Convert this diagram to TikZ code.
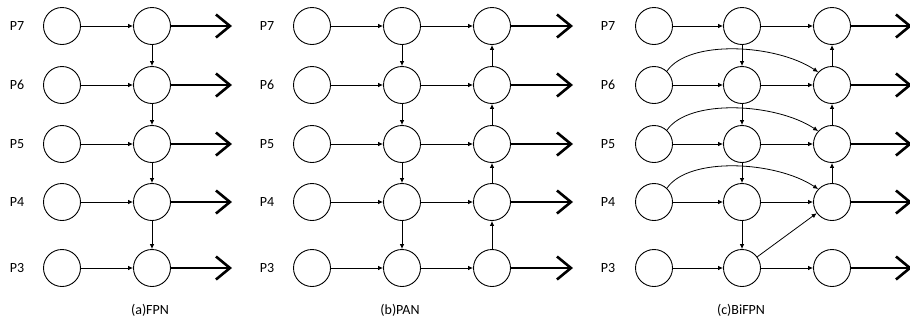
\documentclass[tikz,border=0pt]{standalone}
\usepackage{fontspec}
\setmainfont{Carlito}
\usetikzlibrary{arrows.meta}

\tikzset{
  lvl/.style={circle, draw=black, line width=0.9pt, minimum size=37pt, inner sep=0pt},
  lbl/.style={font=\fontsize{14}{16}\selectfont, inner sep=0pt},
  captext/.style={font=\fontsize{14}{16}\selectfont, inner sep=0pt},
  flow/.style={draw=black, line width=0.8pt, -{Latex[length=5pt,width=4.5pt]}},
  outp/.style={draw=black, line width=2.6pt, -{Straight Barb[length=14pt,width=23pt,line width=2.6pt]}},
}

\begin{document}
\begin{tikzpicture}[x=1pt, y=-1pt]
\useasboundingbox (0,0) rectangle (910,322);

% row heights for P7 ... P3
\def\rows{7/26,6/85,5/144,4/202,3/268}

% ---------------- (a) FPN ----------------
\foreach \p/\y in \rows {
  \node[lbl] (aL\p) at (17,\y) {P\p};
  \node[lvl] (a1\p) at (62,\y) {};
  \node[lvl] (a2\p) at (152,\y) {};
  \coordinate (aO\p) at (232,\y);
  \draw[flow] (a1\p) -- (a2\p);
  \draw[outp] (a2\p) -- (aO\p);
}
\foreach \u/\d in {7/6,6/5,5/4,4/3} \draw[flow] (a2\u) -- (a2\d);
\node[captext] (acap) at (150,310) {(a)FPN};

% ---------------- (b) PAN ----------------
\foreach \p/\y in \rows {
  \node[lbl] (bL\p) at (267,\y) {P\p};
  \node[lvl] (b1\p) at (312,\y) {};
  \node[lvl] (b2\p) at (402,\y) {};
  \node[lvl] (b3\p) at (492,\y) {};
  \coordinate (bO\p) at (573,\y);
  \draw[flow] (b1\p) -- (b2\p);
  \draw[flow] (b2\p) -- (b3\p);
  \draw[outp] (b3\p) -- (bO\p);
}
\foreach \u/\d in {7/6,6/5,5/4,4/3} {
  \draw[flow] (b2\u) -- (b2\d);
  \draw[flow] (b3\d) -- (b3\u);
}
\node[captext] (bcap) at (400,310) {(b)PAN};

% ---------------- (c) BiFPN ----------------
\foreach \p/\y in \rows {
  \node[lbl] (cL\p) at (608,\y) {P\p};
  \node[lvl] (c1\p) at (654,\y) {};
  \node[lvl] (c2\p) at (742,\y) {};
  \node[lvl] (c3\p) at (832,\y) {};
  \coordinate (cO\p) at (912,\y);
  \draw[flow] (c1\p) -- (c2\p);
  \draw[flow] (c2\p) -- (c3\p);
  \draw[outp] (c3\p) -- (cO\p);
}
\foreach \u/\d in {7/6,6/5,5/4,4/3} \draw[flow] (c2\u) -- (c2\d);
\foreach \u/\d in {7/6,6/5,5/4} \draw[flow] (c3\d) -- (c3\u);
\draw[flow] (c23) -- (c34);
% skip connections from the inputs to the outputs
\foreach \p in {6,5,4}
  \draw[flow] (c1\p.47) .. controls +(22,-32) and +(-42,-28) .. (c3\p.137);
\node[captext] (ccap) at (741,310) {(c)BiFPN};
\end{tikzpicture}
\end{document}
